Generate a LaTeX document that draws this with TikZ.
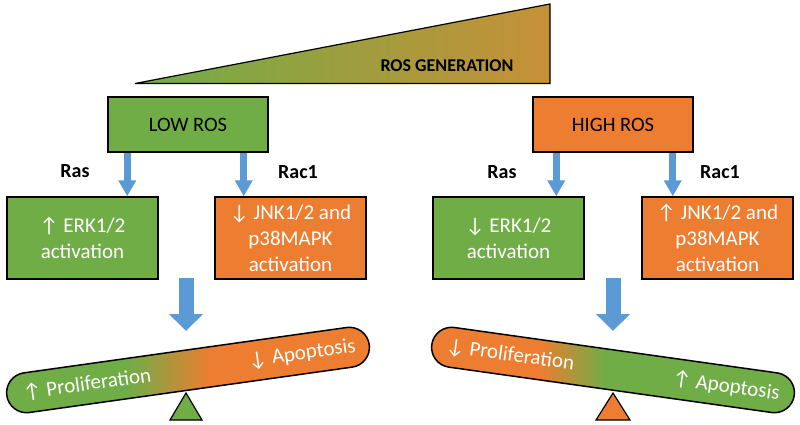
\documentclass[tikz,border=0pt]{standalone}
\usepackage{fontspec}
\setmainfont{Carlito}
\usetikzlibrary{arrows.meta,calc}
\definecolor{cgreen}{HTML}{70AD47}
\definecolor{corange}{HTML}{ED7D31}
\definecolor{cblue}{HTML}{5B9BD5}
\definecolor{cbrown}{HTML}{C79037}
\pgfdeclarehorizontalshading{lowbar}{100bp}{color(0bp)=(cgreen); color(42bp)=(cgreen); color(53bp)=(corange); color(100bp)=(corange)}
\pgfdeclarehorizontalshading{highbar}{100bp}{color(0bp)=(corange); color(40bp)=(corange); color(49bp)=(cgreen); color(100bp)=(cgreen)}
\tikzset{
  box/.style={draw=black, line width=1.5pt, minimum width=151pt, minimum height=82pt, inner sep=0pt, align=center, text=white, font=\fontsize{21}{26}\selectfont},
  topbox/.style={draw=black, line width=1.5pt, minimum width=160pt, minimum height=55pt, inner sep=0pt, font=\fontsize{20.5}{24}\selectfont},
  lbl/.style={font=\fontsize{20}{24}\selectfont\bfseries},
  smallarrow/.style={draw=cblue, line width=7pt, -{Triangle[width=17pt,length=16pt]}},
  bigarrow/.style={draw=cblue, line width=15pt, -{Triangle[width=33pt,length=17pt]}},
  bar/.style={draw=black, line width=1.5pt, minimum width=366pt, minimum height=40pt, rounded corners=20pt, inner sep=0pt},
  bartext/.style={text=white, font=\fontsize{21}{25}\selectfont, inner sep=0pt},
  pivot/.style={draw=black, line width=1.2pt}
}
\begin{document}
\begin{tikzpicture}[x=1pt,y=-1pt]
\useasboundingbox (0,0) rectangle (800,424);
% ROS generation wedge
\shade[left color=cgreen, right color=cbrown, draw=black, line width=1.2pt] (135,83.5) -- (550,4) -- (550,83.5) -- cycle;
\node[font=\fontsize{18}{20}\selectfont\bfseries] (ros) at (447,66) {ROS GENERATION};
% top boxes
\node[topbox, fill=cgreen] (low) at (188,124.5) {LOW ROS};
\node[topbox, fill=corange] (high) at (613,124.5) {HIGH ROS};
% second level
\node[box, fill=cgreen] (erkL) at (82.5,238) {↑ ERK1/2\\activation};
\node[box, fill=corange] (jnkL) at (290.5,238) {↓ JNK1/2 and\\p38MAPK\\activation};
\node[box, fill=cgreen] (erkH) at (508.5,238) {↓ ERK1/2\\activation};
\node[box, fill=corange] (jnkH) at (717.5,238) {↑ JNK1/2 and\\p38MAPK\\activation};
% labels
\node[lbl] (rasL) at (75,171) {Ras};
\node[lbl] (racL) at (298,172) {Rac1};
\node[lbl] (rasH) at (502,172) {Ras};
\node[lbl] (racH) at (720,172) {Rac1};
% small arrows
\draw[smallarrow] ([xshift=20pt]low.south west) -- ([xshift=20pt]low.south west |- erkL.north);
\draw[smallarrow] ([xshift=-25pt]low.south east) -- ([xshift=-25pt]low.south east |- jnkL.north);
\draw[smallarrow] ([xshift=24pt]high.south west) -- ([xshift=24pt]high.south west |- erkH.north);
\draw[smallarrow] ([xshift=-21pt]high.south east) -- ([xshift=-21pt]high.south east |- jnkH.north);
% seesaws
\node[bar, shading=lowbar, rotate=8] (barL) at (188,370) {};
\node[bar, shading=highbar, rotate=-8] (barH) at (613,370) {};
\node[bartext, rotate=8] (proL) at (87,384) {↑ Proliferation};
\node[bartext, rotate=8] (apoL) at (302,354) {↓ Apoptosis};
\node[bartext, rotate=-8] (proH) at (510,355.5) {↓ Proliferation};
\node[bartext, rotate=-8] (apoH) at (726,386.5) {↑ Apoptosis};
% big arrows
\coordinate (bLs) at (186,278);
\coordinate (bLe) at (186,331);
\coordinate (bHs) at (613,278);
\coordinate (bHe) at (613,331);
\draw[bigarrow] (bLs) -- (bLe);
\draw[bigarrow] (bHs) -- (bHe);
% pivots
\draw[pivot, fill=cgreen] (186,393) -- (202,420) -- (170,420) -- cycle;
\draw[pivot, fill=corange] (613,393) -- (630,420) -- (596,420) -- cycle;
\end{tikzpicture}
\end{document}
